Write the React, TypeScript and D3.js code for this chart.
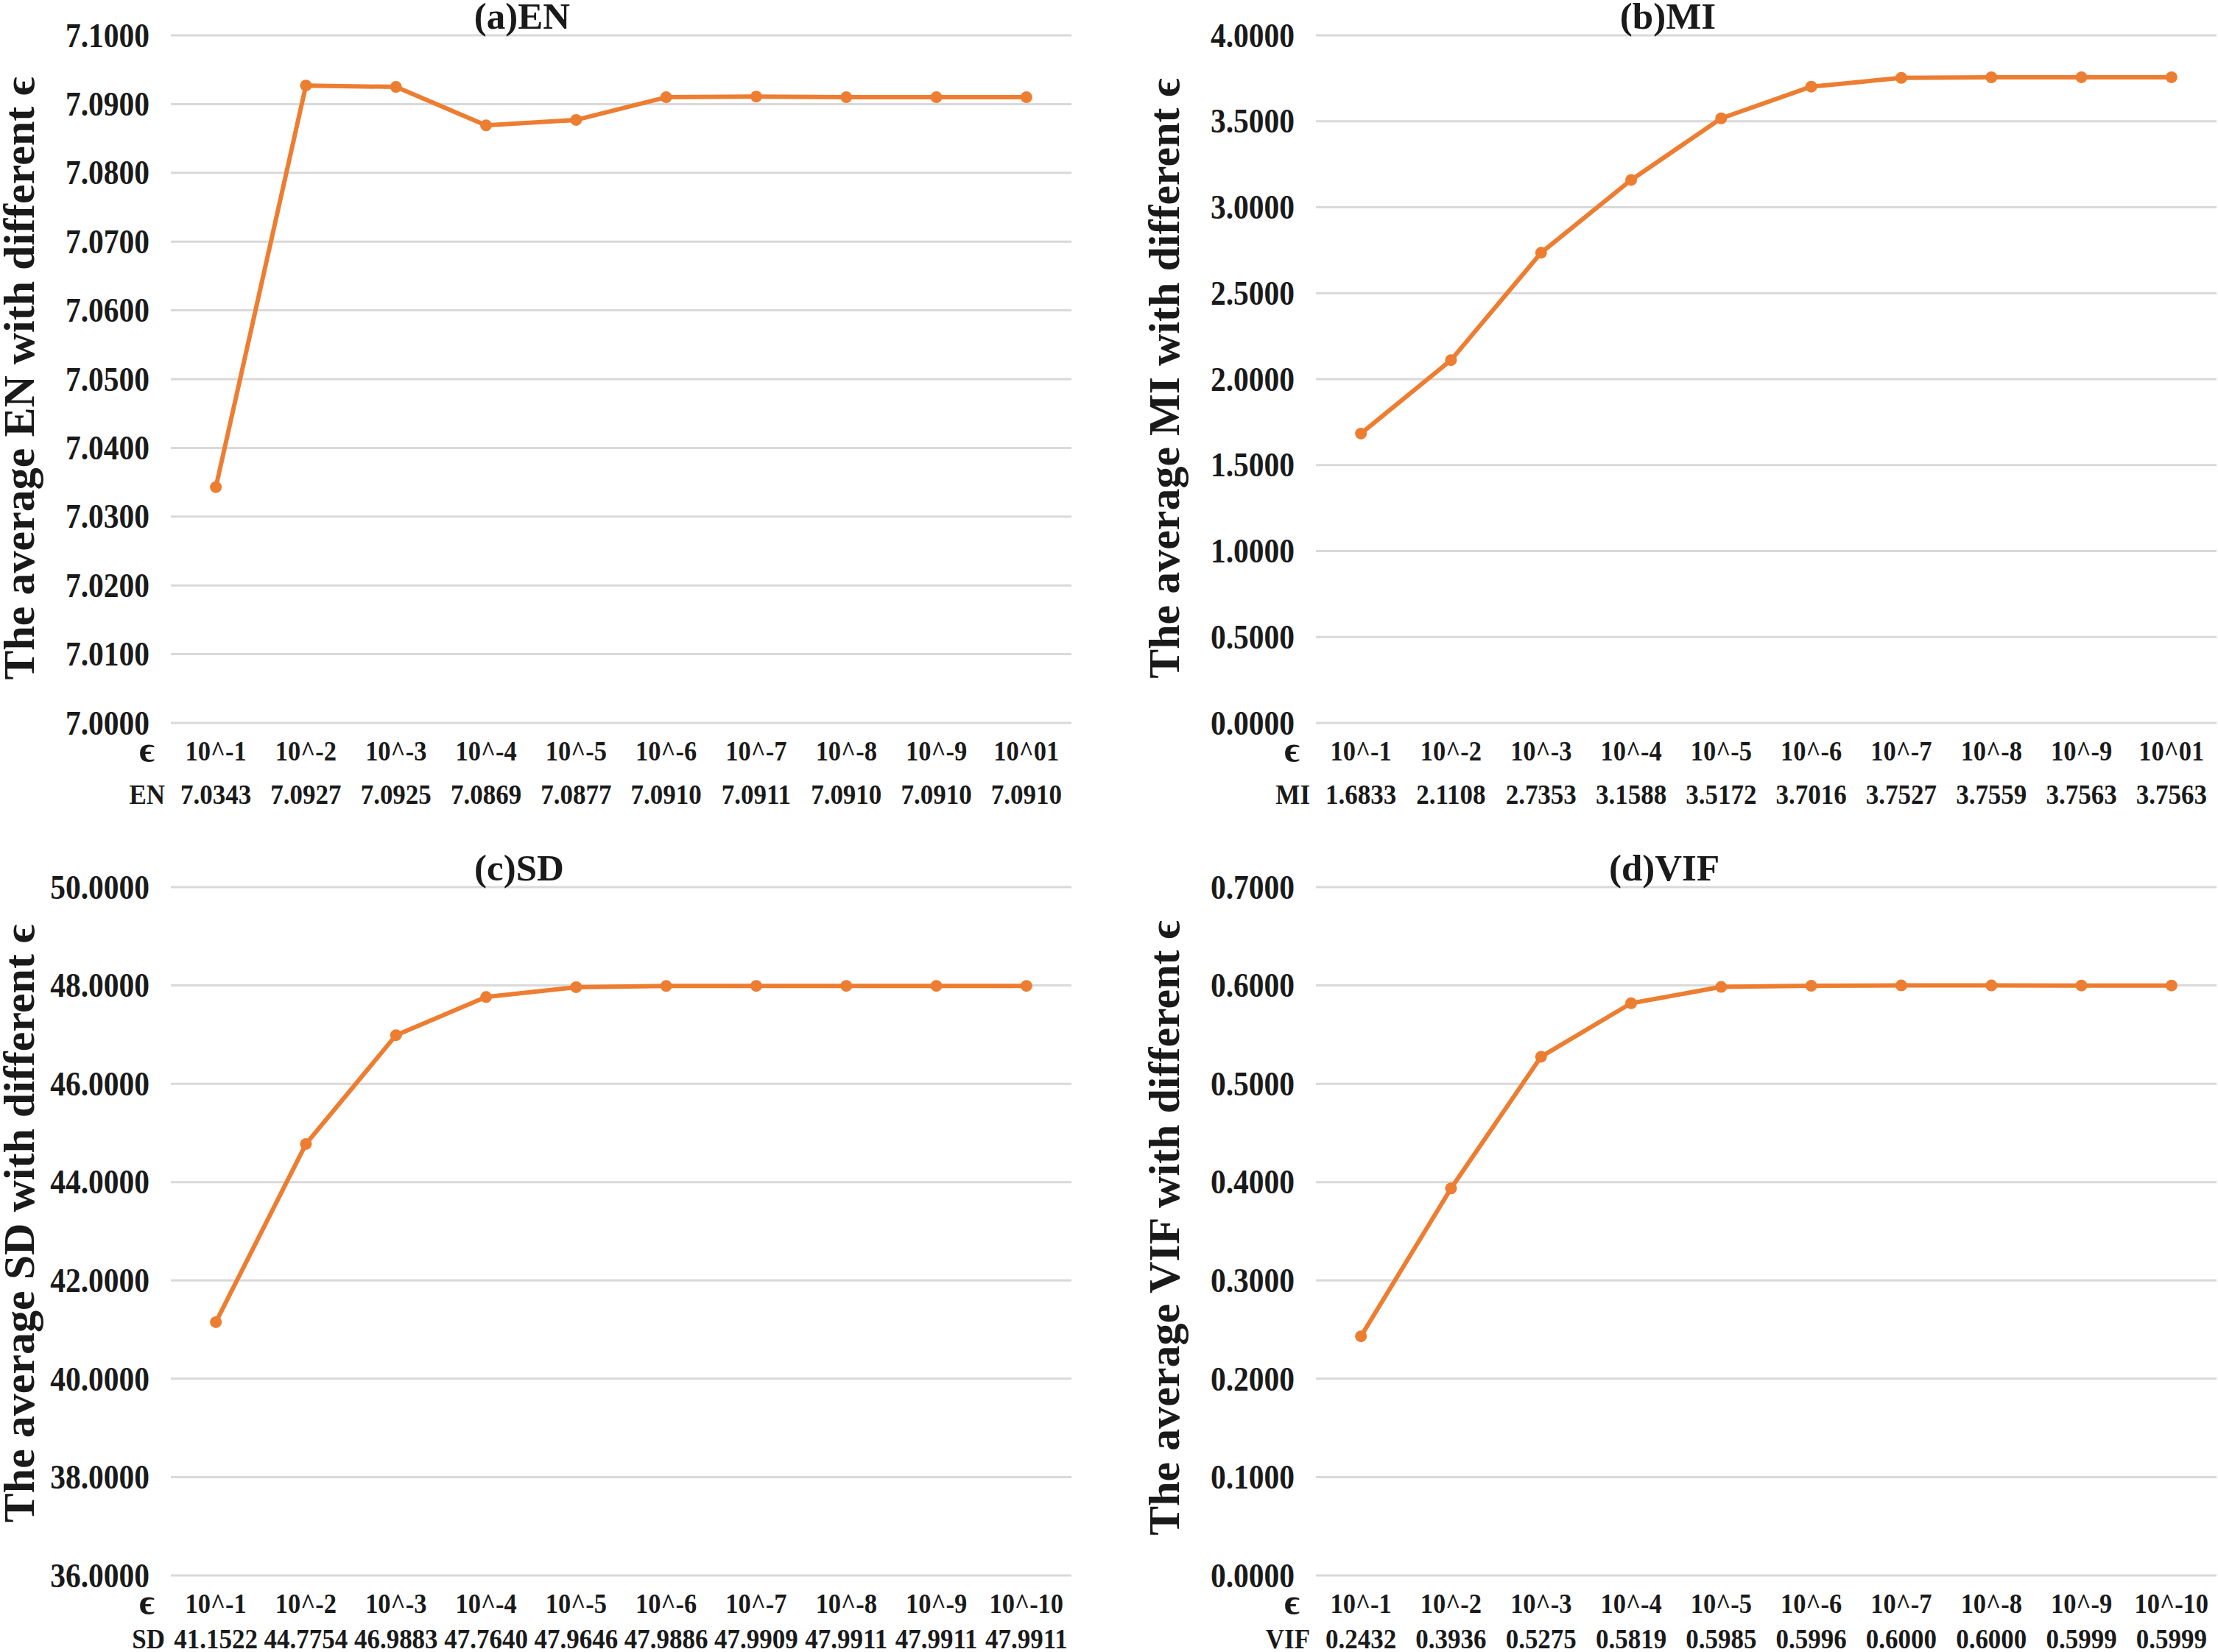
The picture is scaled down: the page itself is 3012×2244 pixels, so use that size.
import React from "react";
import * as d3 from "d3";

const categoriesTop = ["10^-1", "10^-2", "10^-3", "10^-4", "10^-5", "10^-6", "10^-7", "10^-8", "10^-9", "10^01"];
const categoriesBottom = ["10^-1", "10^-2", "10^-3", "10^-4", "10^-5", "10^-6", "10^-7", "10^-8", "10^-9", "10^-10"];

const enValues = [7.0343, 7.0927, 7.0925, 7.0869, 7.0877, 7.0910, 7.0911, 7.0910, 7.0910, 7.0910];
const miValues = [1.6833, 2.1108, 2.7353, 3.1588, 3.5172, 3.7016, 3.7527, 3.7559, 3.7563, 3.7563];
const sdValues = [41.1522, 44.7754, 46.9883, 47.7640, 47.9646, 47.9886, 47.9909, 47.9911, 47.9911, 47.9911];
const vifValues = [0.2432, 0.3936, 0.5275, 0.5819, 0.5985, 0.5996, 0.6000, 0.6000, 0.5999, 0.5999];

const enTicks = [7.0, 7.01, 7.02, 7.03, 7.04, 7.05, 7.06, 7.07, 7.08, 7.09, 7.1];
const miTicks = [0, 0.5, 1.0, 1.5, 2.0, 2.5, 3.0, 3.5, 4.0];
const sdTicks = [36, 38, 40, 42, 44, 46, 48, 50];
const vifTicks = [0, 0.1, 0.2, 0.3, 0.4, 0.5, 0.6, 0.7];

const ORANGE = "#ED7D31";
const GRID = "#D9D9D9";
const INK = "#1a1a1a";
const FONT = "'Liberation Serif', 'Times New Roman', serif";
const SY = 1.1;

type PanelProps = {
  left: number;
  right: number;
  top: number;
  bottom: number;
  ticks: number[];
  categories: string[];
  values: number[];
  rowLabel: string;
  title: string;
  titleX: number;
  yTitle: string;
  yTitleY: number;
  valueOffset: number;
};

function T(props: {
  x: number;
  y: number;
  size: number;
  anchor: "start" | "middle" | "end";
  children: React.ReactNode;
  sy?: number;
}) {
  return (
    <text
      transform={`translate(${props.x},${props.y}) scale(1,${props.sy ?? SY})`}
      textAnchor={props.anchor}
      dominantBaseline="central"
      fontFamily={FONT}
      fontWeight="bold"
      fontSize={props.size}
      fill={INK}
    >
      {props.children}
    </text>
  );
}

function Panel(p: PanelProps) {
  const x = d3.scaleBand<string>().domain(p.categories).range([p.left, p.right]).padding(0);
  const y = d3
    .scaleLinear()
    .domain([p.ticks[0], p.ticks[p.ticks.length - 1]])
    .range([p.bottom, p.top]);
  const fmt = d3.format(".4f");
  const cx = (c: string) => (x(c) as number) + x.bandwidth() / 2;
  const line = d3
    .line<number>()
    .x((_, i) => cx(p.categories[i]))
    .y((v) => y(v));
  return (
    <g>
      {p.ticks.map((t) => (
        <line key={"g" + t} x1={p.left} x2={p.right} y1={y(t)} y2={y(t)} stroke={GRID} strokeWidth={3} />
      ))}
      <text
        x={p.titleX}
        y={p.top - 9}
        textAnchor="middle"
        fontFamily={FONT}
        fontWeight="bold"
        fontSize={51}
        fill={INK}
      >
        {p.title}
      </text>
      {p.ticks.map((t) => (
        <T key={"t" + t} x={p.left - 29} y={y(t)} size={41.5} anchor="end">
          {fmt(t)}
        </T>
      ))}
      <text
        transform={`translate(46,${p.yTitleY}) rotate(-90)`}
        textAnchor="middle"
        fontFamily={FONT}
        fontWeight="bold"
        fontSize={60}
        fill={INK}
      >
        {p.yTitle}
      </text>
      <path d={line(p.values) || ""} fill="none" stroke={ORANGE} strokeWidth={6} strokeLinejoin="round" />
      {p.values.map((v, i) => (
        <circle key={i} cx={cx(p.categories[i])} cy={y(v)} r={8} fill={ORANGE} />
      ))}
      <T x={p.left - 22} y={p.bottom + 36} size={50} anchor="end" sy={1}>
        ϵ
      </T>
      {p.categories.map((c) => (
        <T key={c} x={cx(c)} y={p.bottom + 38} size={34.5} anchor="middle">
          {c}
        </T>
      ))}
      <T x={p.left - 8} y={p.bottom + p.valueOffset} size={35} anchor="end">
        {p.rowLabel}
      </T>
      {p.values.map((v, i) => (
        <T key={i} x={cx(p.categories[i])} y={p.bottom + p.valueOffset} size={35} anchor="middle">
          {v.toFixed(4)}
        </T>
      ))}
    </g>
  );
}

export default function App() {
  return (
    <svg
      width={3012}
      height={2244}
      viewBox="0 0 3012 2244"
      style={{ position: "absolute", left: 0, top: 0, background: "#fff" }}
    >
      <rect x={0} y={0} width={3012} height={2244} fill="#fff" />
      <g>
        <Panel
          left={232}
          right={1455}
          top={48}
          bottom={982}
          ticks={enTicks}
          categories={categoriesTop}
          values={enValues}
          rowLabel="EN"
          title="(a)EN"
          titleX={709}
          yTitle="The average EN with different ϵ"
          yTitleY={514}
          valueOffset={97}
        />
      </g>
      <g transform="translate(1555,0)">
        <Panel
          left={232}
          right={1455}
          top={48}
          bottom={982}
          ticks={miTicks}
          categories={categoriesTop}
          values={miValues}
          rowLabel="MI"
          title="(b)MI"
          titleX={710}
          yTitle="The average MI with different ϵ"
          yTitleY={514}
          valueOffset={97}
        />
      </g>
      <g>
        <Panel
          left={232}
          right={1455}
          top={1205}
          bottom={2140}
          ticks={sdTicks}
          categories={categoriesBottom}
          values={sdValues}
          rowLabel="SD"
          title="(c)SD"
          titleX={705}
          yTitle="The average SD with different ϵ"
          yTitleY={1662}
          valueOffset={86}
        />
      </g>
      <g transform="translate(1555,0)">
        <Panel
          left={232}
          right={1455}
          top={1205}
          bottom={2140}
          ticks={vifTicks}
          categories={categoriesBottom}
          values={vifValues}
          rowLabel="VIF"
          title="(d)VIF"
          titleX={705}
          yTitle="The average VIF with different ϵ"
          yTitleY={1668}
          valueOffset={86}
        />
      </g>
    </svg>
  );
}
